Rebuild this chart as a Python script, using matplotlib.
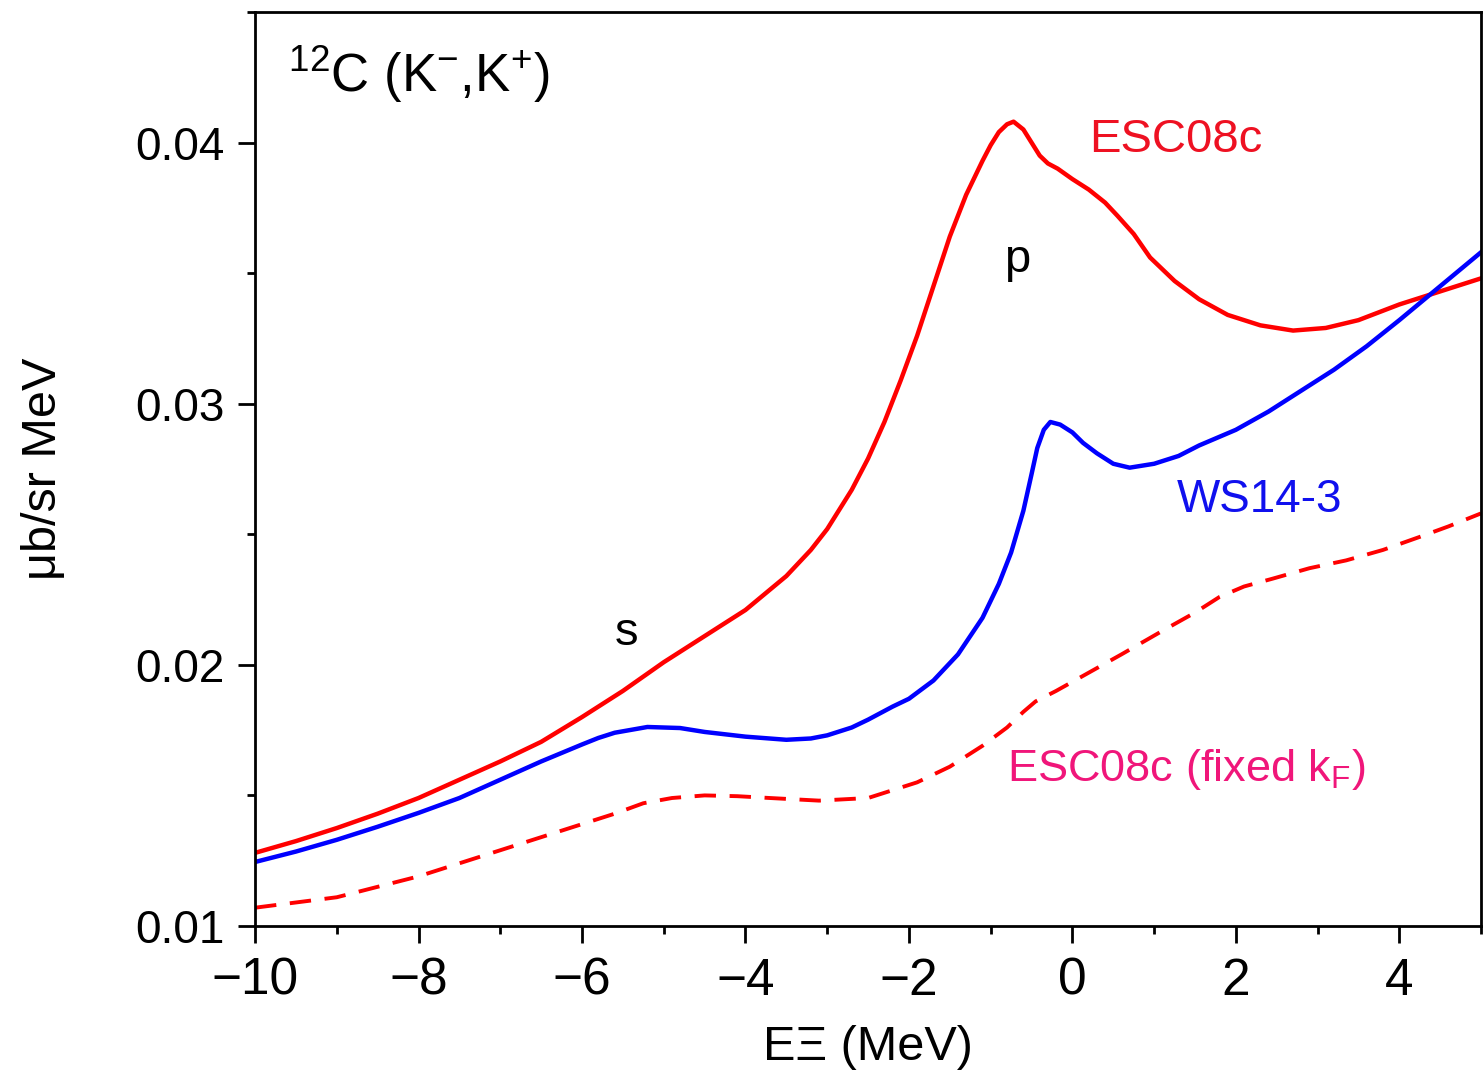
import matplotlib
matplotlib.use('Agg')
import matplotlib.pyplot as plt
from matplotlib.ticker import MultipleLocator, FormatStrFormatter

plt.rcParams['font.family'] = ['Liberation Sans', 'DejaVu Sans']
plt.rcParams['mathtext.fontset'] = 'custom'
plt.rcParams['mathtext.rm'] = 'Liberation Sans'
plt.rcParams['mathtext.it'] = 'Liberation Sans'

# ESC08c
e_esc = [-10, -9.5, -9, -8.5, -8, -7.5, -7, -6.5, -6, -5.5, -5, -4.5, -4, -3.5, -3.2, -3.0,
         -2.7, -2.5, -2.3, -2.1, -1.9, -1.7, -1.5, -1.3, -1.1, -1.0, -0.9, -0.8, -0.72,
         -0.6, -0.5, -0.4, -0.3, -0.18, 0, 0.2, 0.4, 0.55, 0.75, 0.95, 1.25, 1.55, 1.9,
         2.3, 2.7, 3.1, 3.5, 4.0, 4.5, 5.0]
s_esc = [0.0128, 0.01325, 0.01375, 0.0143, 0.0149, 0.0156, 0.0163, 0.01705, 0.0180, 0.0190,
         0.0201, 0.0211, 0.0221, 0.0234, 0.0244, 0.0252, 0.0267, 0.0279, 0.0293, 0.0309,
         0.0326, 0.0345, 0.0364, 0.0380, 0.0393, 0.0399, 0.0404, 0.0407, 0.0408, 0.0405,
         0.0400, 0.0395, 0.0392, 0.0390, 0.0386, 0.0382, 0.0377, 0.0372, 0.0365, 0.0356,
         0.0347, 0.0340, 0.0334, 0.0330, 0.0328, 0.0329, 0.0332, 0.0338, 0.0343, 0.0348]

# WS14-3
e_ws = [-10, -9.5, -9, -8.5, -8, -7.5, -7, -6.5, -6, -5.8, -5.6, -5.2, -4.8, -4.5, -4.0, -3.5,
        -3.2, -3.0, -2.7, -2.5, -2.2, -2.0, -1.7, -1.4, -1.1, -0.9, -0.75, -0.6, -0.5,
        -0.43, -0.35, -0.27, -0.15, 0, 0.13, 0.3, 0.5, 0.7, 1.0, 1.3, 1.55, 2.0, 2.4, 2.8,
        3.2, 3.6, 4.0, 4.5, 5.0]
s_ws = [0.01245, 0.01285, 0.0133, 0.0138, 0.01433, 0.0149, 0.0156, 0.0163, 0.01695, 0.0172,
        0.0174, 0.01762, 0.01758, 0.01743, 0.01725, 0.01713, 0.01718, 0.0173, 0.0176, 0.0179,
        0.0184, 0.0187, 0.0194, 0.0204, 0.0218, 0.0231, 0.0243, 0.0259, 0.0273, 0.0283,
        0.0290, 0.0293, 0.0292, 0.0289, 0.0285, 0.0281, 0.0277, 0.02755, 0.0277, 0.0280,
        0.0284, 0.0290, 0.0297, 0.0305, 0.0313, 0.0322, 0.0332, 0.0345, 0.0358]

# ESC08c with fixed k_F
e_fix = [-10, -9.5, -9, -8.5, -8, -7.5, -7, -6.5, -6, -5.6, -5.25, -4.9, -4.5, -4.1, -3.7,
         -3.1, -2.8, -2.5, -2.2, -1.9, -1.5, -1.1, -0.8, -0.6, -0.45, -0.2, 0.2, 0.6, 1.1,
         1.5, 1.8, 2.1, 2.45, 2.9, 3.35, 3.8, 4.25, 4.6, 5.0]
s_fix = [0.0107, 0.0109, 0.0111, 0.0115, 0.0119, 0.0124, 0.0129, 0.0134, 0.0139, 0.0143,
         0.0147, 0.0149, 0.0150, 0.01497, 0.0149, 0.0148, 0.01485, 0.0149, 0.0152, 0.0155,
         0.0161, 0.0169, 0.0176, 0.0182, 0.0186, 0.0190, 0.0197, 0.0204, 0.0213, 0.0220,
         0.0226, 0.0230, 0.0233, 0.0237, 0.0240, 0.0244, 0.0249, 0.0253, 0.0258]

fig = plt.figure(figsize=(14.83, 10.89), dpi=100)
ax = fig.add_axes([0.172, 0.1497, 0.8267, 0.8393])

ax.plot(e_esc, s_esc, color='#ff0000', lw=3.2, solid_joinstyle='round')
ax.plot(e_ws, s_ws, color='#0000ff', lw=3.2, solid_joinstyle='round')
ax.plot(e_fix, s_fix, color='#ff0000', lw=2.8, dashes=(5.5, 3.5))

ax.set_xlim(-10, 5)
ax.set_ylim(0.01, 0.045)

ax.xaxis.set_major_locator(MultipleLocator(2))
ax.xaxis.set_minor_locator(MultipleLocator(1))
ax.yaxis.set_major_locator(MultipleLocator(0.01))
ax.yaxis.set_minor_locator(MultipleLocator(0.005))
ax.yaxis.set_major_formatter(FormatStrFormatter('%.2f'))

ax.tick_params(which='major', direction='out', length=12, width=2, labelsize=33, pad=10)
ax.tick_params(which='minor', direction='out', length=6, width=2)
ax.tick_params(axis='x', labelsize=37)
for sp in ax.spines.values():
    sp.set_linewidth(2)

ax.set_xlabel('EΞ (MeV)', fontsize=35, labelpad=14)
ax.set_ylabel('μb/sr MeV', fontsize=35, labelpad=50)

ax.text(-9.6, 0.0426, r'$^{12}$C (K$^{-}$,K$^{+}$)', fontsize=38, va='center')
ax.text(0.2, 0.0401, 'ESC08c', color='#ee1122', fontsize=34, va='center')
ax.text(-0.84, 0.0355, 'p', fontsize=34, va='center')
ax.text(-5.6, 0.0212, 's', fontsize=34, va='center')
ax.text(1.28, 0.0263, 'WS14-3', color='#1010ee', fontsize=33, va='center')
ax.text(-0.8, 0.0160, r'ESC08c (fixed k$_{\mathrm{F}}$)', color='#f0167a', fontsize=32.5, va='center')

fig.savefig('out.png', dpi=100)
